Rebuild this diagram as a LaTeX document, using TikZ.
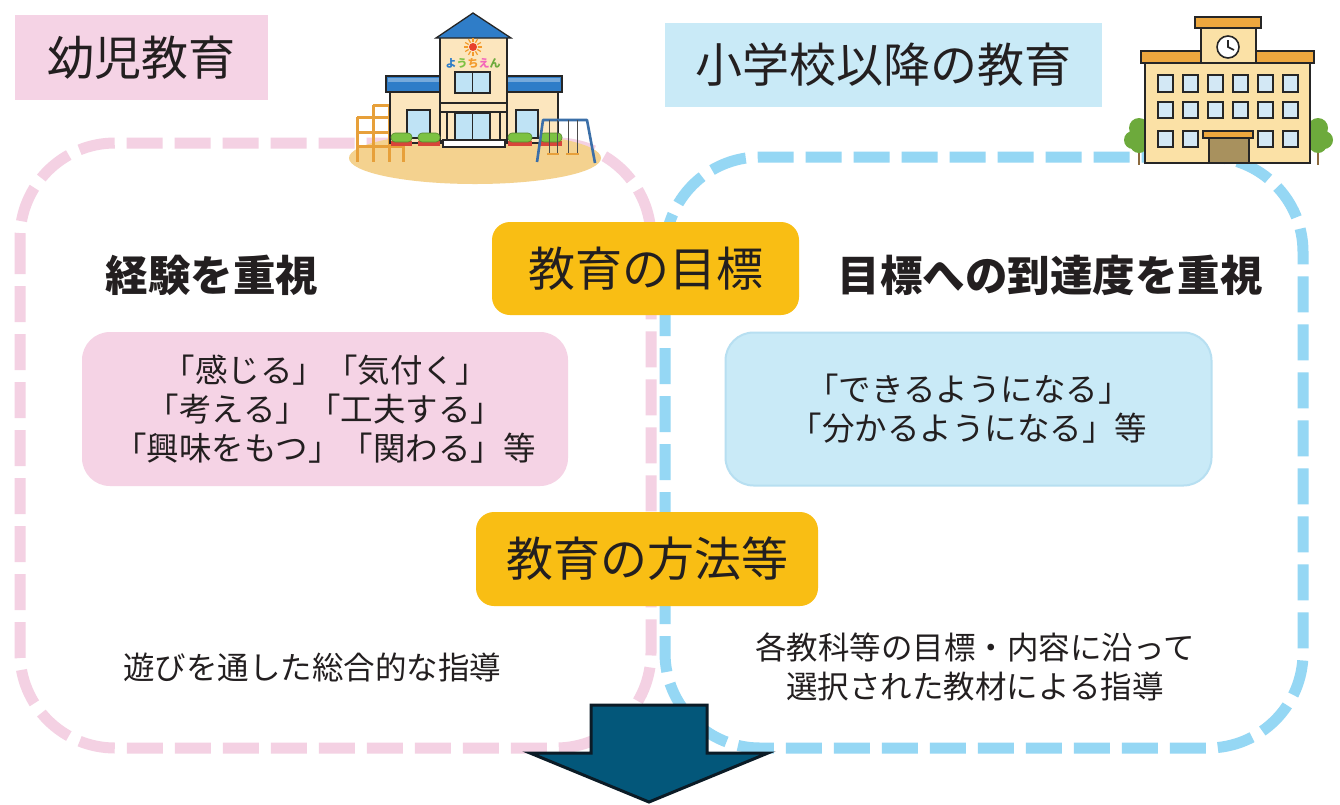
\documentclass[tikz,border=0pt]{standalone}
\usepackage{fontspec}
\newfontfamily\jp{Noto Sans CJK JP}
\definecolor{ink}{HTML}{231F20}
\definecolor{pinkbox}{HTML}{F5D3E5}
\definecolor{pinkdash}{HTML}{F4D1E3}
\definecolor{bluebox}{HTML}{C9EAF7}
\definecolor{blueedge}{HTML}{B7DFF1}
\definecolor{bluedash}{HTML}{95D7F4}
\definecolor{gold}{HTML}{F9BE14}
\definecolor{arrowfill}{HTML}{03577A}
\definecolor{arrowedge}{HTML}{0B1B26}
% kindergarten colours
\definecolor{wall}{HTML}{FCE6BE}
\definecolor{roofblue}{HTML}{2F7DC8}
\definecolor{glass}{HTML}{BFE3F5}
\definecolor{leaf}{HTML}{7CC242}
\definecolor{planter}{HTML}{D8453A}
\definecolor{sand}{HTML}{F4D28F}
\definecolor{gym}{HTML}{E7A03A}
\definecolor{swingblue}{HTML}{3B6FA8}
\definecolor{sunred}{HTML}{E8412C}
\definecolor{sunorange}{HTML}{F39A2B}
% school colours
\definecolor{schwall}{HTML}{FBE1A6}
\definecolor{schroof}{HTML}{EDA73E}
\definecolor{schglass}{HTML}{D3E8F5}
\definecolor{schdoor}{HTML}{A8915E}
\definecolor{tree}{HTML}{6DAA3C}
\definecolor{trunk}{HTML}{8B6A3E}
\tikzset{
  titlebox/.style={inner sep=0pt, text=ink, font=\jp\fontsize{47}{54}\selectfont},
  goalbox/.style={fill=gold, rounded corners=18pt, inner sep=0pt, text=ink,
    font=\jp\fontsize{47}{54}\selectfont},
  heading/.style={inner sep=0pt, text=ink, font=\jp\bfseries\fontsize{42.5}{48}\selectfont},
  listbox/.style={rounded corners=28pt, inner sep=0pt, align=center, text=ink,
    font=\jp\fontsize{32.5}{39}\selectfont},
  bodytext/.style={inner sep=0pt, align=center, text=ink,
    font=\jp\fontsize{31.5}{39}\selectfont},
  frame/.style={line width=11pt, dash pattern=on 36pt off 12pt, rounded corners=95pt},
  outline/.style={draw=black!85, line width=1.3pt},
}
\begin{document}
\begin{tikzpicture}[x=1pt,y=-1pt]
\useasboundingbox (0,0) rectangle (1340,804);
\fill[white] (0,0) rectangle (1340,804);

% dashed frames of the two stages
\draw[frame, pinkdash] (20,143) rectangle (651,748);
\draw[frame, bluedash] (665,157) rectangle (1303,748);

% ---------- kindergarten ----------
\fill[sand] (475,158) ellipse [x radius=126, y radius=26];
% jungle gym
\foreach \x/\t in {357/117,373/105,389/105,403/117}
  \draw[gym, line width=3pt] (\x,\t) -- (\x,162);
\draw[gym, line width=3pt] (373,105) -- (389,105);
\foreach \y in {117,132,146} \draw[gym, line width=3pt] (357,\y) -- (403,\y);
% wings
\filldraw[outline, fill=wall] (390,92) rectangle (558,143);
\filldraw[outline, fill=roofblue] (386,76) rectangle (562,92);
\fill[white, opacity=.35] (388,78) rectangle (560,82);
% tower
\filldraw[outline, fill=wall] (440,37) rectangle (507,141);
\filldraw[outline, fill=roofblue] (436,38) -- (473,13) -- (511,38) -- cycle;
\fill[sunred] (473,47) circle [radius=4];
\foreach \a in {0,30,...,330} \draw[sunorange, line width=1.2pt, shift={(473,47)}] (\a:5) -- (\a:9);
\node[inner sep=0pt, font=\jp\bfseries\fontsize{11}{12}\selectfont] (yochien) at (473,63)
  {\textcolor{roofblue}{よ}\textcolor{leaf}{う}\textcolor{sunorange}{ち}\textcolor{magenta!60}{え}\textcolor{tree}{ん}};
\filldraw[outline, fill=glass] (455,72) rectangle (490,93);
\draw[outline] (472.5,72) -- (472.5,93);
% canopy, door and step
\filldraw[outline, fill=wall] (440,103) rectangle (507,112);
\draw[outline] (447,112) -- (447,140) (500,112) -- (500,140);
\filldraw[outline, fill=glass] (455,113) rectangle (490,140);
\draw[outline] (472.5,113) -- (472.5,140);
\filldraw[outline, fill=white] (443,140) rectangle (505,147);
% side windows
\filldraw[outline, fill=glass] (407,110) rectangle (430,138);
\filldraw[outline, fill=glass] (516,110) rectangle (538,138);
% hedges and planters
\foreach \a/\b in {391/412,418/440,508/532,540/562}{
  \fill[planter] (\a,141) rectangle (\b,146);
  \filldraw[draw=leaf!70!black, line width=.6pt, fill=leaf, rounded corners=4pt] (\a,133) rectangle (\b,142);
}
% swing
\draw[swingblue, line width=2.6pt, line join=round] (537,162) -- (543,120) -- (587,120) -- (595,163);
\draw[black!70, line width=.8pt] (549,120) -- (549,153) (557,120) -- (557,153)
  (568,120) -- (568,153) (577,120) -- (577,153);
\draw[gym, line width=2.2pt] (547,154) -- (559,154) (566,154) -- (579,154);

% ---------- elementary school ----------
% trees
\foreach \tx in {1139,1318}{
  \draw[trunk, line width=2.5pt] (\tx,140) -- (\tx,165);
  \fill[tree] (\tx,128) circle [radius=10];
  \fill[tree] (\tx-6,140) circle [radius=9];
  \fill[tree] (\tx+6,140) circle [radius=9];
  \fill[tree] (\tx,144) circle [radius=9];
}
\filldraw[outline, line width=1.8pt, fill=schwall] (1145,62) rectangle (1310,163);
\filldraw[outline, line width=1.8pt, fill=schwall] (1201,27) rectangle (1256,63);
\filldraw[outline, line width=1.8pt, fill=schroof] (1195,17) rectangle (1261,28);
\filldraw[outline, line width=1.8pt, fill=schroof] (1141,51) rectangle (1201,63);
\filldraw[outline, line width=1.8pt, fill=schroof] (1256,51) rectangle (1314,63);
\filldraw[outline, line width=1.6pt, fill=white] (1228,47) circle [radius=11];
\draw[outline, line width=1.6pt] (1228,40) -- (1228,47) -- (1234,50);
\foreach \x in {1158,1183,1208,1233,1258,1283}{
  \filldraw[outline, line width=1.6pt, fill=schglass] (\x,75) rectangle ++(15,17);
  \filldraw[outline, line width=1.6pt, fill=schglass] (\x,102) rectangle ++(15,16);
}
\foreach \x in {1158,1183,1258,1283}
  \filldraw[outline, line width=1.6pt, fill=schglass] (\x,131) rectangle ++(15,16);
\filldraw[outline, line width=1.6pt, fill=schdoor] (1209,137) rectangle (1249,163);
\filldraw[outline, line width=1.6pt, fill=schroof] (1203,131) rectangle (1253,138);

% ---------- titles ----------
\node[titlebox, fill=pinkbox, minimum width=253pt, minimum height=85pt] (kinder) at (141.5,57.5) {幼児教育};
\node[titlebox, fill=bluebox, minimum width=437pt, minimum height=84pt] (school) at (883.5,65) {小学校以降の教育};

% ---------- headings ----------
\node[heading] (expe) at (212,275) {経験を重視};
\node[heading] (reach) at (1050,275) {目標への到達度を重視};

% ---------- central labels ----------
\node[goalbox, minimum width=307pt, minimum height=93pt] (goal) at (645.5,268.5) {教育の目標};
\node[goalbox, minimum width=342pt, minimum height=94pt] (method) at (647,559) {教育の方法等};

% ---------- lists ----------
\node[listbox, fill=pinkbox, minimum width=486pt, minimum height=154pt] (plist) at (325,409)
  {「感じる」「気付く」\\「考える」「工夫する」\\「興味をもつ」「関わる」等};
\node[listbox, fill=bluebox, draw=blueedge, line width=2pt, minimum width=486pt, minimum height=153pt] (blist) at (968.5,409)
  {「できるようになる」\\「分かるようになる」等};

% ---------- teaching methods ----------
\node[bodytext] (play) at (312,667) {遊びを通した総合的な指導};
\node[bodytext] (subj) at (975,667) {各教科等の目標・内容に沿って\\選択された教材による指導};

% ---------- downward arrow ----------
\draw[fill=arrowfill, draw=arrowedge, line width=3pt, line join=miter]
  (591,705) -- (707,705) -- (707,753) -- (768,753) -- (649,802) -- (530,753) -- (591,753) -- cycle;
\end{tikzpicture}
\end{document}
